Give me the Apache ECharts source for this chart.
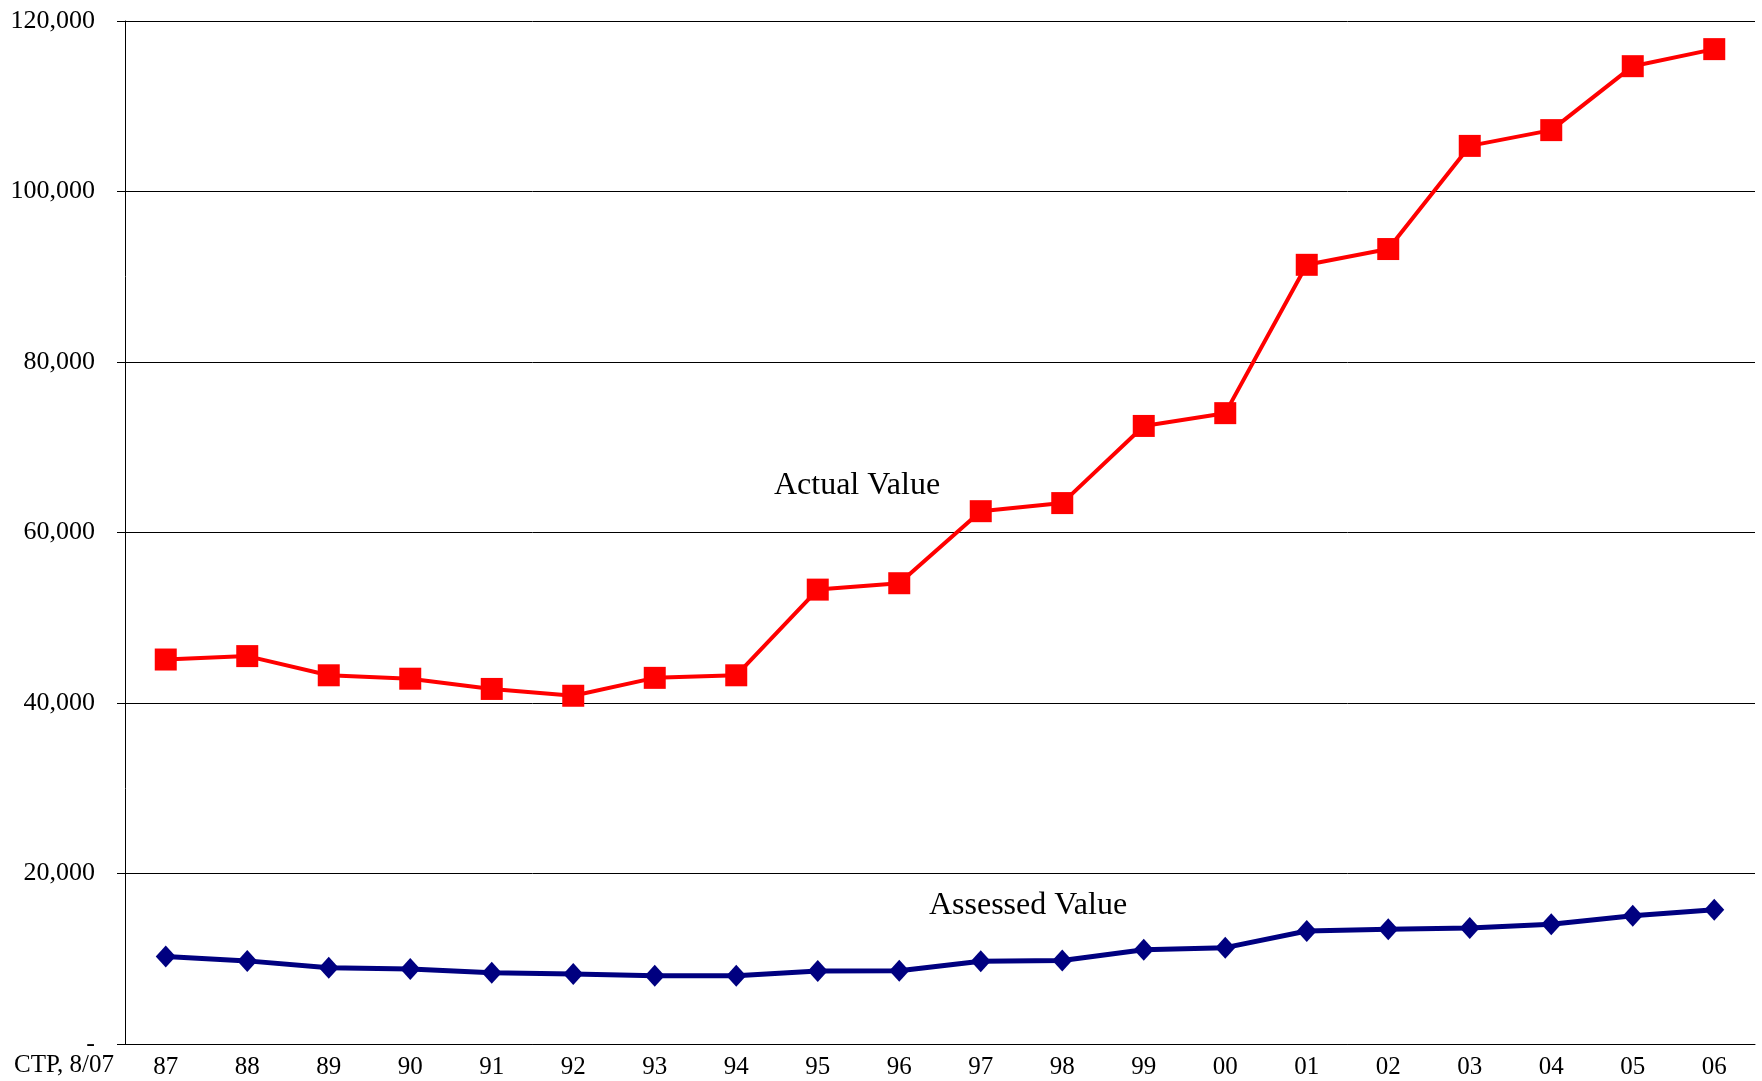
<!DOCTYPE html>
<html>
<head>
<meta charset="utf-8">
<script src="https://cdn.jsdelivr.net/npm/echarts@6/dist/echarts.min.js"></script>
<style>
    html, body { margin: 0; padding: 0; background: #fff; }
    #chart { width: 1762px; height: 1081px; }
</style>
</head>
<body>
<div id="chart"></div>
<script>
    var years = ['87', '88', '89', '90', '91', '92', '93', '94', '95', '96',
        '97', '98', '99', '00', '01', '02', '03', '04', '05', '06'];
    var actualValue = [45100, 45500, 43250, 42850, 41650, 40850, 42950, 43250, 53300, 54050,
        62500, 63450, 72500, 74000, 91400, 93250, 105350, 107200, 114700, 116700];
    var assessedValue = [10250, 9750, 8950, 8800, 8350, 8200, 8000, 8000, 8550, 8600,
        9700, 9800, 11050, 11300, 13250, 13450, 13600, 14050, 15050, 15750];

    var font = '"Liberation Serif", "Times New Roman", serif';

    var chart = echarts.init(document.getElementById('chart'));

    var option = {
        animation: false,
        grid: {
            left: 125,
            right: 7,
            top: 21,
            bottom: 37
        },
        xAxis: {
            type: 'category',
            data: years,
            boundaryGap: true,
            axisLine: { lineStyle: { color: '#000', width: 1 } },
            axisTick: { show: false },
            axisLabel: {
                color: '#000',
                fontFamily: font,
                fontSize: 25,
                margin: 11
            }
        },
        yAxis: {
            type: 'value',
            min: 0,
            max: 120000,
            interval: 20000,
            axisLine: { show: true, lineStyle: { color: '#000', width: 1 } },
            axisTick: { show: true, inside: false, length: 8, lineStyle: { color: '#000' } },
            splitLine: { show: true, lineStyle: { color: '#000', width: 1 } },
            axisLabel: {
                color: '#000',
                fontFamily: font,
                fontSize: 26,
                margin: 30,
                formatter: function (v) {
                    if (v === 0) return '-';
                    return v.toLocaleString('en-US');
                }
            }
        },
        series: [
            {
                name: 'Actual Value',
                type: 'line',
                data: actualValue,
                symbol: 'rect',
                symbolSize: 22,
                lineStyle: { color: '#ff0000', width: 4 },
                itemStyle: { color: '#ff0000' },
                z: 3
            },
            {
                name: 'Assessed Value',
                type: 'line',
                data: assessedValue,
                symbol: 'diamond',
                symbolSize: [20, 22],
                lineStyle: { color: '#000080', width: 5 },
                itemStyle: { color: '#000080' },
                z: 3
            }
        ],
        graphic: [
            {
                type: 'text',
                x: 857,
                y: 486,
                style: {
                    text: 'Actual Value',
                    font: '32px ' + font,
                    fill: '#000',
                    align: 'center',
                    verticalAlign: 'middle'
                }
            },
            {
                type: 'text',
                x: 1028,
                y: 906,
                style: {
                    text: 'Assessed Value',
                    font: '32px ' + font,
                    fill: '#000',
                    align: 'center',
                    verticalAlign: 'middle'
                }
            },
            {
                type: 'text',
                x: 64,
                y: 1065,
                style: {
                    text: 'CTP, 8/07',
                    font: '25px ' + font,
                    fill: '#000',
                    align: 'center',
                    verticalAlign: 'middle'
                }
            }
        ]
    };

    chart.setOption(option);
</script>
</body>
</html>
